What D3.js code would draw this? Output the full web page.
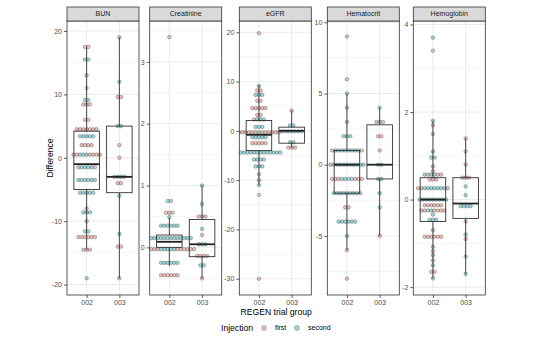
<!DOCTYPE html>
<html>
<head>
<meta charset="utf-8">
<script src="https://cdn.jsdelivr.net/npm/d3@7"></script>
<style>
  body { margin: 0; background: #fff; }
  text { font-family: "Liberation Sans", Arial, sans-serif; }
</style>
</head>
<body>
<svg id="chart" width="542" height="346"></svg>
<script>
// facets, groups and legend entries
const facets = ["BUN", "Creatinine", "eGFR", "Hematocrit", "Hemoglobin"];
const groups = ["002", "003"];
const injections = ["first", "second"];

// dot stacks: [value, colours left to right] where f = first, s = second
const bun002 = [[17.5,"ff"],[15.5,"ss"],[13,"s"],[11,"f"],[9.1,"ss"],[8.4,"fff"],[6,"ff"],
  [4.5,"fffffff"],[3.4,"sssss"],[2,"ffff"],[0.5,"ffsssffff"],[-1.5,"fssssf"],
  [-3.5,"ssssss"],[-5.5,"sssss"],[-8,"f"],[-8.6,"sss"],[-10,"f"],[-11.6,"ss"],
  [-12.5,"ffffff"],[-14.5,"fff"],[-19,"s"]];
const bun003 = [[19,"f"],[12,"s"],[9.6,"ff"],[5,"ss"],[2,"f"],[0,"f"],[-3,"ssss"],
  [-4,"ff"],[-6,"s"],[-12,"s"],[-14,"ff"],[-19,"f"]];

const creat002 = [[3.4,"f"],[0.75,"ss"],[0.56,"fff"],[0.49,"s"],[0.35,"ssssss"],
  [0.15,"ssssssssssssss"],[-0.03,"fffffsssssffffff"],[-0.25,"ssssss"],[-0.45,"ffffff"]];
const creat003 = [[1,"s"],[0.7,"s"],[0.5,"fff"],[0.3,"s"],[0.2,"f"],[0.05,"sss"],
  [-0.14,"ffff"],[-0.29,"ss"],[-0.5,"f"]];

const egfr002 = [[19.8,"f"],[9.1,"s"],[8.2,"ff"],[7.3,"sss"],[6.1,"ff"],[4.6,"fffff"],
  [3.2,"ff"],[2.3,"fsss"],[0.8,"sss"],[-0.3,"ffffffsffffff"],[-1.3,"sssss"],
  [-2.5,"fffff"],[-4.4,"ssssssssssssss"],[-5.8,"ssss"],[-7.2,"sss"],[-8.8,"f"],
  [-10,"f"],[-11,"s"],[-13,"f"],[-30,"f"]];
const egfr003 = [[4.1,"f"],[1.1,"ss"],[-0.1,"fssssss"],[-2.3,"ss"],[-3.4,"fff"]];

const hct002 = [[9,"f"],[6,"f"],[5,"s"],[4,"s"],[3,"s"],[2,"sss"],[1,"fssssssssf"],
  [0,"fssssssssss"],[-1,"fffssssfff"],[-2,"sssssssss"],[-3,"ff"],[-4,"ssssss"],
  [-5,"s"],[-6,"f"],[-8,"f"]];
const hct003 = [[4,"s"],[3,"fsf"],[2,"ff"],[1,"f"],[0,"ss"],[-1,"ss"],[-2,"s"],
  [-3,"s"],[-5,"f"]];

const hgb002 = [[3.7,"s"],[3.4,"f"],[1.8,"s"],[1.7,"f"],[1.5,"s"],[1.1,"s"],[0.96,"ss"],
  [0.76,"s"],[0.65,"f"],[0.57,"sfssff"],[0.46,"fff"],[0.26,"ffsssssssf"],
  [0,"sssssssss"],[-0.13,"ffffff"],[-0.25,"ffssffff"],[-0.34,"s"],[-0.46,"sss"],
  [-0.7,"s"],[-0.85,"ffffff"],[-1.08,"s"],[-1.18,"f"],[-1.27,"s"],[-1.39,"f"],
  [-1.5,"s"],[-1.65,"ff"],[-1.8,"s"]];
const hgb003 = [[1.4,"f"],[1.1,"f"],[0.8,"f"],[0.5,"fff"],[0.3,"s"],[0.1,"s"],
  [-0.15,"ssss"],[-0.5,"f"],[-0.8,"s"],[-0.9,"f"],[-1.3,"s"],[-1.7,"s"]];

// box statistics per group: [lower whisker, q1, median, q3, upper whisker]
const bunBox   = [[-14.5, -5, -1, 4.2, 17.5], [-19, -5.5, -3, 5, 19]];
const creatBox = [[-0.3, 0, 0.09, 0.2, 0.48], [-0.5, -0.15, 0.05, 0.45, 1]];
const egfrBox  = [[-11, -4, -0.8, 2.1, 9.3], [-3.4, -2.5, 0, 0.75, 4.1]];
const hctBox   = [[-6, -2, 0, 1, 5], [-5, -1, 0, 2.8, 4]];
const hgbBox   = [[-1.8, -0.5, 0, 0.5, 1.8], [-1.7, -0.43, -0.09, 0.5, 1.4]];

// y axis breaks and limits
const bunTicks   = [-20, -10, 0, 10, 20];
const creatTicks = [0, 1, 2, 3];
const egfrTicks  = [-30, -20, -10, 0, 10, 20];
const hctTicks   = [-5, 0, 5, 10];
const hgbTicks   = [-2, 0, 2, 4];
const yLimits = [[-21.64, 21.58], [-0.77, 3.66], [-33.3, 22.29], [-9.15, 10.09], [-2.18, 4.08]];

const dotsByFacet = [[bun002, bun003], [creat002, creat003], [egfr002, egfr003],
  [hct002, hct003], [hgb002, hgb003]];
const boxByFacet = [bunBox, creatBox, egfrBox, hctBox, hgbBox];
const ticksByFacet = [bunTicks, creatTicks, egfrTicks, hctTicks, hgbTicks];

const fillColor = d3.scaleOrdinal().domain(["f", "s"]).range(["#D9827C", "#3FB2B6"]);

const svg = d3.select("#chart");
const panelLeft = [67, 149.7, 239.3, 327.3, 413.3];
const panelW = 72, panelTop = 21, panelBottom = 295, stripTop = 7;
const dotR = 1.8, dotStep = 3.3;

facets.forEach((name, i) => {
  const left = panelLeft[i];
  const x = d3.scalePoint().domain(groups).range([left, left + panelW]).padding(0.6);
  const y = d3.scaleLinear().domain(yLimits[i]).range([panelBottom, panelTop]);
  const ticks = ticksByFacet[i];
  const step = x.step();

  const g = svg.append("g");

  g.append("rect")
    .attr("x", left).attr("y", panelTop)
    .attr("width", panelW).attr("height", panelBottom - panelTop)
    .attr("fill", "#fff");

  // minor grid between the breaks
  const minor = [];
  for (let k = 0; k <= ticks.length; k++) {
    const gap = ticks[1] - ticks[0];
    const m = ticks[0] - gap / 2 + k * gap;
    if (m > yLimits[i][0] && m < yLimits[i][1]) minor.push(m);
  }
  g.selectAll(".minor").data(minor).enter().append("line")
    .attr("x1", left).attr("x2", left + panelW)
    .attr("y1", d => y(d)).attr("y2", d => y(d))
    .attr("stroke", "#EBEBEB").attr("stroke-width", 0.5);
  g.selectAll(".major").data(ticks).enter().append("line")
    .attr("x1", left).attr("x2", left + panelW)
    .attr("y1", d => y(d)).attr("y2", d => y(d))
    .attr("stroke", "#EBEBEB").attr("stroke-width", 1);
  g.selectAll(".vmajor").data(groups).enter().append("line")
    .attr("x1", d => x(d)).attr("x2", d => x(d))
    .attr("y1", panelTop).attr("y2", panelBottom)
    .attr("stroke", "#EBEBEB").attr("stroke-width", 1);

  // clip for dots
  const clipId = "clip" + i;
  svg.append("clipPath").attr("id", clipId)
    .append("rect").attr("x", left).attr("y", panelTop)
    .attr("width", panelW).attr("height", panelBottom - panelTop);

  const dotsG = g.append("g").attr("clip-path", `url(#${clipId})`);
  groups.forEach((grp, gi) => {
    const cx = x(grp);
    const pts = [];
    dotsByFacet[i][gi].forEach(([v, pattern]) => {
      const n = pattern.length;
      pattern.split("").forEach((c, k) => {
        pts.push({ x: cx + (k - (n - 1) / 2) * dotStep, v: v, c: c });
      });
    });
    dotsG.selectAll(null).data(pts).enter().append("circle")
      .attr("cx", d => d.x).attr("cy", d => y(d.v)).attr("r", dotR)
      .attr("fill", d => fillColor(d.c)).attr("fill-opacity", 0.5)
      .attr("stroke", "#222").attr("stroke-opacity", 0.6).attr("stroke-width", 0.5);
  });

  // boxplots
  const bw = step * 0.78;
  groups.forEach((grp, gi) => {
    const [lo, q1, med, q3, hi] = boxByFacet[i][gi];
    const cx = x(grp);
    g.append("line").attr("x1", cx).attr("x2", cx)
      .attr("y1", y(q3)).attr("y2", y(hi))
      .attr("stroke", "#333").attr("stroke-width", 0.9);
    g.append("line").attr("x1", cx).attr("x2", cx)
      .attr("y1", y(q1)).attr("y2", y(lo))
      .attr("stroke", "#333").attr("stroke-width", 0.9);
    g.append("rect").attr("x", cx - bw / 2).attr("y", y(q3))
      .attr("width", bw).attr("height", y(q1) - y(q3))
      .attr("fill", "none").attr("stroke", "#333").attr("stroke-width", 0.9);
    g.append("line").attr("x1", cx - bw / 2).attr("x2", cx + bw / 2)
      .attr("y1", y(med)).attr("y2", y(med))
      .attr("stroke", "#222").attr("stroke-width", 1.8);
  });

  // panel border
  g.append("rect")
    .attr("x", left).attr("y", panelTop)
    .attr("width", panelW).attr("height", panelBottom - panelTop)
    .attr("fill", "none").attr("stroke", "#333").attr("stroke-width", 0.8);

  // strip
  g.append("rect")
    .attr("x", left).attr("y", stripTop)
    .attr("width", panelW).attr("height", panelTop - stripTop)
    .attr("fill", "#D9D9D9").attr("stroke", "#333").attr("stroke-width", 0.8);
  g.append("text")
    .attr("x", left + panelW / 2).attr("y", (stripTop + panelTop) / 2)
    .attr("dy", "0.35em").attr("text-anchor", "middle")
    .attr("font-size", 7).attr("fill", "#1A1A1A")
    .text(name);

  // axes
  const yAxis = d3.axisLeft(y).tickValues(ticks).tickSize(3).tickPadding(2)
    .tickFormat(d => String(d));
  const yg = g.append("g").attr("transform", `translate(${left},0)`).call(yAxis);
  const xAxis = d3.axisBottom(x).tickSize(3).tickPadding(2);
  const xg = g.append("g").attr("transform", `translate(0,${panelBottom})`).call(xAxis);
  [yg, xg].forEach(a => {
    a.select(".domain").remove();
    a.selectAll(".tick line").attr("stroke", "#333").attr("stroke-width", 0.8);
    a.selectAll(".tick text").attr("fill", "#4D4D4D").attr("font-size", 7)
      .attr("font-family", "Liberation Sans, Arial, sans-serif");
  });
});

// axis titles
svg.append("text")
  .attr("x", (panelLeft[0] + panelLeft[4] + panelW) / 2).attr("y", 315)
  .attr("text-anchor", "middle").attr("font-size", 8.6).attr("fill", "#000")
  .text("REGEN trial group");
svg.append("text")
  .attr("transform", `translate(53,${(panelTop + panelBottom) / 2}) rotate(-90)`)
  .attr("text-anchor", "middle").attr("font-size", 8.6).attr("fill", "#000")
  .text("Difference");

// legend
const legend = svg.append("g").attr("transform", "translate(0,328)");
legend.append("text").attr("x", 221).attr("y", 0).attr("dy", "0.35em")
  .attr("font-size", 8.6).attr("fill", "#000").text("Injection");
const keyX = [264, 297];
injections.forEach((lab, k) => {
  legend.append("circle").attr("cx", keyX[k]).attr("cy", 0).attr("r", 2.4)
    .attr("fill", fillColor(k === 0 ? "f" : "s")).attr("fill-opacity", 0.5)
    .attr("stroke", "#222").attr("stroke-opacity", 0.6).attr("stroke-width", 0.5);
  legend.append("text").attr("x", keyX[k] + 11).attr("y", 0).attr("dy", "0.35em")
    .attr("font-size", 7).attr("fill", "#000").text(lab);
});
</script>
</body>
</html>
